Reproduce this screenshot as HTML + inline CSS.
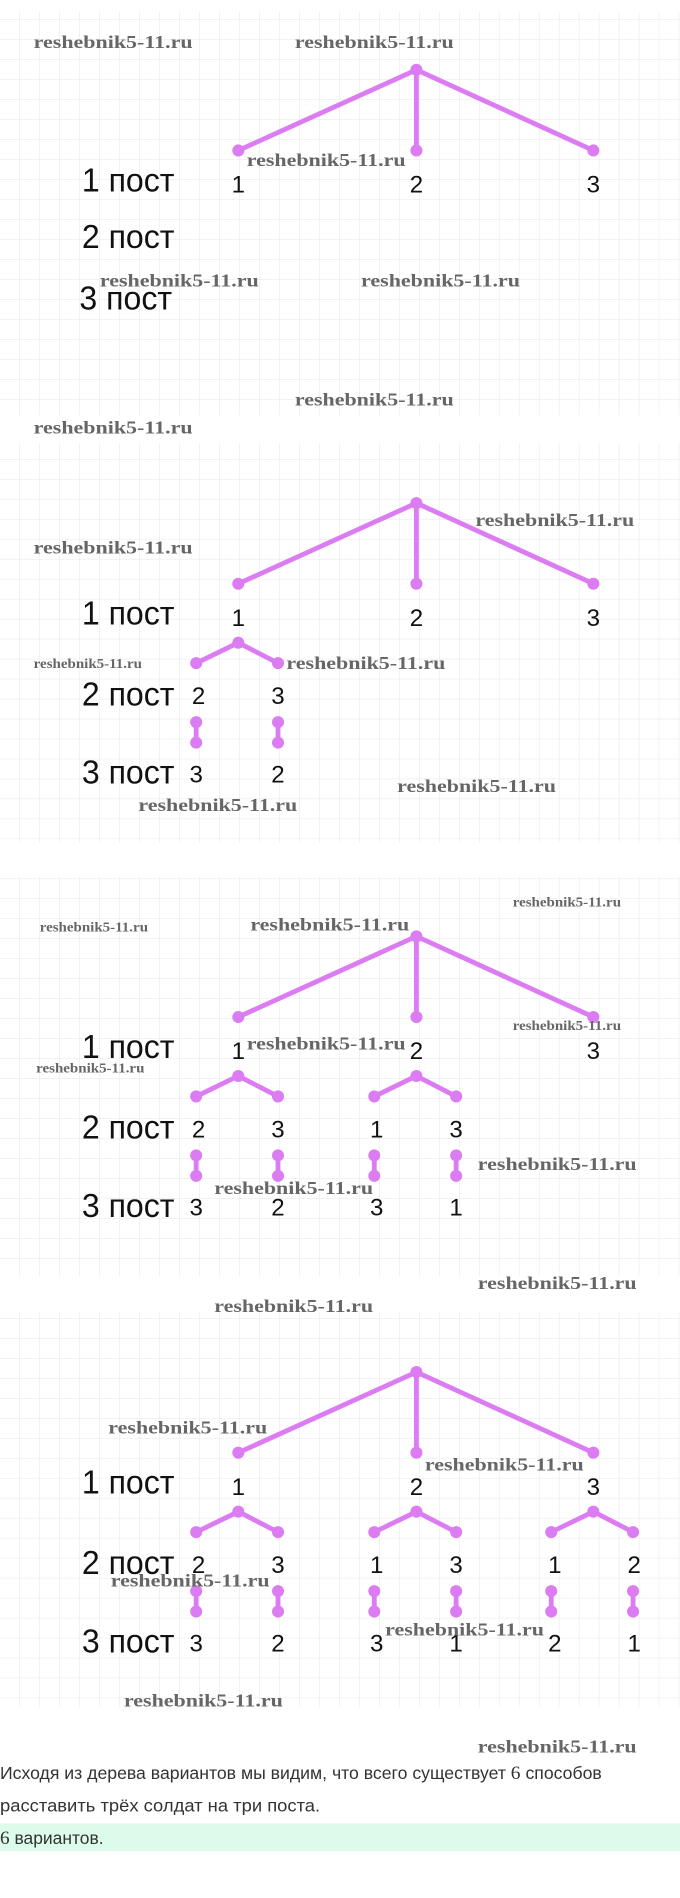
<!DOCTYPE html>
<html><head><meta charset="utf-8"><style>
html,body{margin:0;padding:0;background:#fff;width:680px;height:1898px;overflow:hidden}
svg{display:block}
.w{font-family:"Liberation Serif","DejaVu Serif",serif;font-weight:bold;fill:#666;font-size:15px}
.s{font-size:11px}
.p{font-family:"Liberation Sans",sans-serif;font-size:28px;fill:#111}
.d{font-family:"Liberation Sans",sans-serif;font-size:20px;fill:#111;text-anchor:middle}
.t{font-family:"Liberation Sans","DejaVu Sans",sans-serif;font-size:14.5px;fill:#333}
.l{stroke:#dc7cf2;stroke-width:4;fill:none;stroke-linecap:round}
.c{fill:#dc7cf2}
</style></head><body>
<svg width="680" height="1898" viewBox="0 0 565 1577" preserveAspectRatio="none" xmlns="http://www.w3.org/2000/svg">
<defs>
<pattern id="g" x="0" y="0" width="16.6" height="16.6" patternUnits="userSpaceOnUse">
<path d="M16.6 0V16.6H0" fill="none" stroke="#e6e6e6" stroke-width="0.8"/>
</pattern>
<g id="top">
<path class="l" d="M346 58L198 125M346 58V125M346 58L493 125"/>
<circle class="c" cx="346" cy="58" r="5"/><circle class="c" cx="198" cy="125" r="5"/><circle class="c" cx="346" cy="125" r="5"/><circle class="c" cx="493" cy="125" r="5"/>
<text class="p" x="68" y="159" textLength="77" lengthAdjust="spacingAndGlyphs">1 пост</text>
<text class="d" x="198" y="160">1</text><text class="d" x="346" y="160">2</text><text class="d" x="493" y="160">3</text>
</g>
<g id="sub">
<path class="l" d="M0 174L-35 191M0 174L33 191M-35 240V257M33 240V257"/>
<circle class="c" cx="0" cy="174" r="5"/><circle class="c" cx="-35" cy="191" r="5"/><circle class="c" cx="33" cy="191" r="5"/>
<circle class="c" cx="-35" cy="240" r="5"/><circle class="c" cx="-35" cy="257" r="5"/><circle class="c" cx="33" cy="240" r="5"/><circle class="c" cx="33" cy="257" r="5"/>
</g>
</defs>
<rect x="0" y="10" width="565" height="335" fill="url(#g)"/>
<rect x="0" y="368" width="565" height="332" fill="url(#g)"/>
<rect x="0" y="728" width="565" height="332" fill="url(#g)"/>
<rect x="0" y="1090" width="565" height="328" fill="url(#g)"/>

<!-- panel 1 -->
<use href="#top"/>
<text class="p" x="68" y="206" textLength="77" lengthAdjust="spacingAndGlyphs">2 пост</text>
<text class="p" x="66" y="257" textLength="77" lengthAdjust="spacingAndGlyphs">3 пост</text>

<!-- panel 2 -->
<g transform="translate(0,360)">
<use href="#top"/>
<use href="#sub" transform="translate(198,0)"/>
<text class="p" x="68" y="226" textLength="77" lengthAdjust="spacingAndGlyphs">2 пост</text>
<text class="p" x="68" y="291" textLength="77" lengthAdjust="spacingAndGlyphs">3 пост</text>
<text class="d" x="165" y="225">2</text><text class="d" x="231" y="225">3</text>
<text class="d" x="163" y="290">3</text><text class="d" x="231" y="290">2</text>
</g>

<!-- panel 3 -->
<g transform="translate(0,720)">
<use href="#top"/>
<use href="#sub" transform="translate(198,0)"/>
<use href="#sub" transform="translate(346,0)"/>
<text class="p" x="68" y="226" textLength="77" lengthAdjust="spacingAndGlyphs">2 пост</text>
<text class="p" x="68" y="291" textLength="77" lengthAdjust="spacingAndGlyphs">3 пост</text>
<text class="d" x="165" y="225">2</text><text class="d" x="231" y="225">3</text>
<text class="d" x="313" y="225">1</text><text class="d" x="379" y="225">3</text>
<text class="d" x="163" y="290">3</text><text class="d" x="231" y="290">2</text>
<text class="d" x="313" y="290">3</text><text class="d" x="379" y="290">1</text>
</g>

<!-- panel 4 -->
<g transform="translate(0,1082)">
<use href="#top"/>
<use href="#sub" transform="translate(198,0)"/>
<use href="#sub" transform="translate(346,0)"/>
<use href="#sub" transform="translate(493,0)"/>
<text class="p" x="68" y="226" textLength="77" lengthAdjust="spacingAndGlyphs">2 пост</text>
<text class="p" x="68" y="291" textLength="77" lengthAdjust="spacingAndGlyphs">3 пост</text>
<text class="d" x="165" y="225">2</text><text class="d" x="231" y="225">3</text>
<text class="d" x="313" y="225">1</text><text class="d" x="379" y="225">3</text>
<text class="d" x="461" y="225">1</text><text class="d" x="527" y="225">2</text>
<text class="d" x="163" y="290">3</text><text class="d" x="231" y="290">2</text>
<text class="d" x="313" y="290">3</text><text class="d" x="379" y="290">1</text>
<text class="d" x="461" y="290">2</text><text class="d" x="527" y="290">1</text>
</g>

<!-- watermarks -->
<g>
<text class="w" x="28" y="40" textLength="132" lengthAdjust="spacingAndGlyphs">reshebnik5-11.ru</text>
<text class="w" x="245" y="40" textLength="132" lengthAdjust="spacingAndGlyphs">reshebnik5-11.ru</text>
<text class="w" x="205" y="138" textLength="132" lengthAdjust="spacingAndGlyphs">reshebnik5-11.ru</text>
<text class="w" x="83" y="238" textLength="132" lengthAdjust="spacingAndGlyphs">reshebnik5-11.ru</text>
<text class="w" x="300" y="238" textLength="132" lengthAdjust="spacingAndGlyphs">reshebnik5-11.ru</text>
<text class="w" x="245" y="337" textLength="132" lengthAdjust="spacingAndGlyphs">reshebnik5-11.ru</text>
<text class="w" x="28" y="360" textLength="132" lengthAdjust="spacingAndGlyphs">reshebnik5-11.ru</text>
<text class="w" x="395" y="437" textLength="132" lengthAdjust="spacingAndGlyphs">reshebnik5-11.ru</text>
<text class="w" x="28" y="460" textLength="132" lengthAdjust="spacingAndGlyphs">reshebnik5-11.ru</text>
<text class="w s" x="28" y="555" textLength="90" lengthAdjust="spacingAndGlyphs">reshebnik5-11.ru</text>
<text class="w" x="238" y="556" textLength="132" lengthAdjust="spacingAndGlyphs">reshebnik5-11.ru</text>
<text class="w" x="115" y="674" textLength="132" lengthAdjust="spacingAndGlyphs">reshebnik5-11.ru</text>
<text class="w" x="330" y="658" textLength="132" lengthAdjust="spacingAndGlyphs">reshebnik5-11.ru</text>
<text class="w s" x="426" y="753" textLength="90" lengthAdjust="spacingAndGlyphs">reshebnik5-11.ru</text>
<text class="w s" x="33" y="774" textLength="90" lengthAdjust="spacingAndGlyphs">reshebnik5-11.ru</text>
<text class="w" x="208" y="773" textLength="132" lengthAdjust="spacingAndGlyphs">reshebnik5-11.ru</text>
<text class="w" x="205" y="872" textLength="132" lengthAdjust="spacingAndGlyphs">reshebnik5-11.ru</text>
<text class="w s" x="426" y="856" textLength="90" lengthAdjust="spacingAndGlyphs">reshebnik5-11.ru</text>
<text class="w s" x="30" y="891" textLength="90" lengthAdjust="spacingAndGlyphs">reshebnik5-11.ru</text>
<text class="w" x="397" y="972" textLength="132" lengthAdjust="spacingAndGlyphs">reshebnik5-11.ru</text>
<text class="w" x="178" y="992" textLength="132" lengthAdjust="spacingAndGlyphs">reshebnik5-11.ru</text>
<text class="w" x="397" y="1071" textLength="132" lengthAdjust="spacingAndGlyphs">reshebnik5-11.ru</text>
<text class="w" x="178" y="1090" textLength="132" lengthAdjust="spacingAndGlyphs">reshebnik5-11.ru</text>
<text class="w" x="90" y="1191" textLength="132" lengthAdjust="spacingAndGlyphs">reshebnik5-11.ru</text>
<text class="w" x="353" y="1222" textLength="132" lengthAdjust="spacingAndGlyphs">reshebnik5-11.ru</text>
<text class="w" x="92" y="1318" textLength="132" lengthAdjust="spacingAndGlyphs">reshebnik5-11.ru</text>
<text class="w" x="320" y="1359" textLength="132" lengthAdjust="spacingAndGlyphs">reshebnik5-11.ru</text>
<text class="w" x="103" y="1418" textLength="132" lengthAdjust="spacingAndGlyphs">reshebnik5-11.ru</text>
<text class="w" x="397" y="1456" textLength="132" lengthAdjust="spacingAndGlyphs">reshebnik5-11.ru</text>
</g>

<!-- text -->
<text class="t" x="0" y="1478" textLength="500" lengthAdjust="spacingAndGlyphs">Исходя из дерева вариантов мы видим, что всего существует <tspan font-family="Liberation Serif,serif" font-size="16">6</tspan> способов</text>
<text class="t" x="0" y="1505" textLength="266" lengthAdjust="spacingAndGlyphs">расставить трёх солдат на три поста.</text>
<rect x="0" y="1515" width="565" height="23" fill="#dcfbea"/>
<text class="t" x="0" y="1532"><tspan font-family="Liberation Serif,serif" font-size="16">6</tspan> вариантов.</text>
</svg>
</body></html>
